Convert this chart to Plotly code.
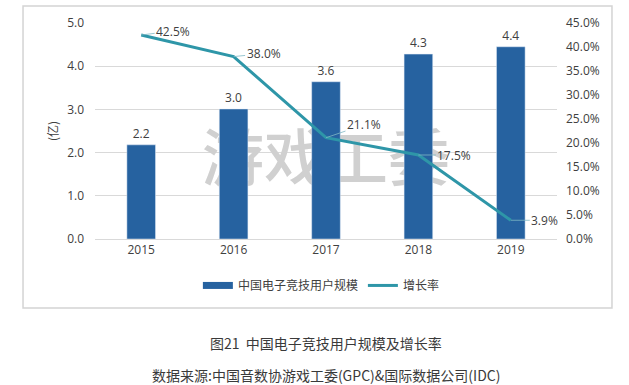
import plotly.graph_objects as go

years = ["2015", "2016", "2017", "2018", "2019"]
users = [2.18, 3.01, 3.64, 4.28, 4.45]
user_labels = ["2.2", "3.0", "3.6", "4.3", "4.4"]
growth = [42.5, 38.0, 21.1, 17.5, 3.9]
growth_labels = ["42.5%", "38.0%", "21.1%", "17.5%", "3.9%"]
label_offsets = [(32, -4), (30, -3), (38, -13), (36, 0), (34, 0)]

BAR = "#2662A0"
LINE = "#2E96A8"
TXT = "#404040"
GRID = "#d9d9d9"
FONT = "Open Sans, Noto Sans CJK SC, sans-serif"
CJK = "Noto Sans CJK SC, sans-serif"
FS = 12

fig = go.Figure()
# watermark on the base subplot, so bars (overlay) draw above it
fig.add_trace(go.Scatter(
    x=["2017"], y=[1.7], xaxis="x", yaxis="y", mode="text", text=["游戏工委"],
    textposition="middle center",
    textfont=dict(size=62, color="#d0d0d0", family=CJK, weight=500),
    showlegend=False, hoverinfo="skip", cliponaxis=False,
))
fig.add_trace(go.Bar(
    x=years, y=users, yaxis="y2", width=0.31, marker_color=BAR, showlegend=False,
    text=user_labels, textposition="outside", textfont=dict(size=FS, color=TXT, family=FONT),
    cliponaxis=False,
))
# legend proxy for bar (wide swatch)
fig.add_trace(go.Scatter(
    x=[years[0]], y=[None], yaxis="y2", mode="lines", line=dict(color=BAR, width=7),
    name="中国电子竞技用户规模",
))
fig.add_trace(go.Scatter(
    x=years, y=growth, yaxis="y3", mode="lines", line=dict(color=LINE, width=3),
    name="增长率",
))

for i, (g, lab, (ax, ay)) in enumerate(zip(growth, growth_labels, label_offsets)):
    fig.add_annotation(
        x=i, xref="x", y=g, yref="y3", text=lab, showarrow=True, arrowhead=0, arrowwidth=0.8,
        arrowcolor="#7fb8c4", ax=ax, ay=ay, standoff=0,
        font=dict(size=FS, color=TXT, family=FONT), xanchor="center", yanchor="middle",
    )

# y-axis title
fig.add_annotation(
    xref="paper", yref="paper", x=-0.093, y=0.5, text="(亿)", textangle=-90,
    showarrow=False, font=dict(size=FS, color=TXT, family=CJK),
    xanchor="center", yanchor="middle",
)
# caption
fig.add_annotation(
    xref="paper", yref="paper", x=0.50, y=-0.48, text="图21  中国电子竞技用户规模及增长率",
    showarrow=False, font=dict(size=14, color="#3a3a3a", family=CJK),
    xanchor="center", yanchor="middle",
)
fig.add_annotation(
    xref="paper", yref="paper", x=0.50, y=-0.63,
    text="数据来源:中国音数协游戏工委(GPC)&amp;国际数据公司(IDC)",
    showarrow=False, font=dict(size=14, color="#3a3a3a", family=CJK),
    xanchor="center", yanchor="middle",
)
# frame
fig.add_shape(
    type="rect", xref="paper", yref="paper", x0=-0.1558, x1=1.119, y0=-0.319, y1=1.0787,
    line=dict(color="#d4d4d4", width=1.5), layer="above",
)

fig.update_layout(
    width=629, height=385,
    margin=dict(l=95, r=72, t=23, b=146),
    paper_bgcolor="white", plot_bgcolor="white",
    font=dict(family=FONT, size=FS, color=TXT),
    xaxis=dict(type="category", categoryorder="array", categoryarray=years,
               range=[-0.5, 4.5], showgrid=False, showline=True, linecolor=GRID, linewidth=1,
               ticks="", tickfont=dict(size=FS, color=TXT)),
    yaxis=dict(range=[0, 5], dtick=1, tickformat=".1f", showgrid=True, gridcolor=GRID,
               gridwidth=1, zeroline=False, ticks="", ticklabelstandoff=10,
               tickfont=dict(size=FS, color=TXT)),
    yaxis2=dict(range=[0, 5], overlaying="y", side="left", visible=False,
                showgrid=False, zeroline=False),
    yaxis3=dict(range=[0, 45], dtick=5, ticksuffix="%", tickformat=".1f", overlaying="y",
                side="right", showgrid=False, zeroline=False, ticks="", ticklabelstandoff=8,
                tickfont=dict(size=FS, color=TXT)),
    legend=dict(orientation="h", x=0.49, xanchor="center", y=-0.215, yanchor="middle",
                font=dict(size=FS, color=TXT, family=CJK),
                bgcolor="rgba(0,0,0,0)"),
    showlegend=True,
)

fig.write_html("out.html", config={"displayModeBar": False},
               post_script="document.body.style.margin='0';document.body.style.overflow='hidden';")
